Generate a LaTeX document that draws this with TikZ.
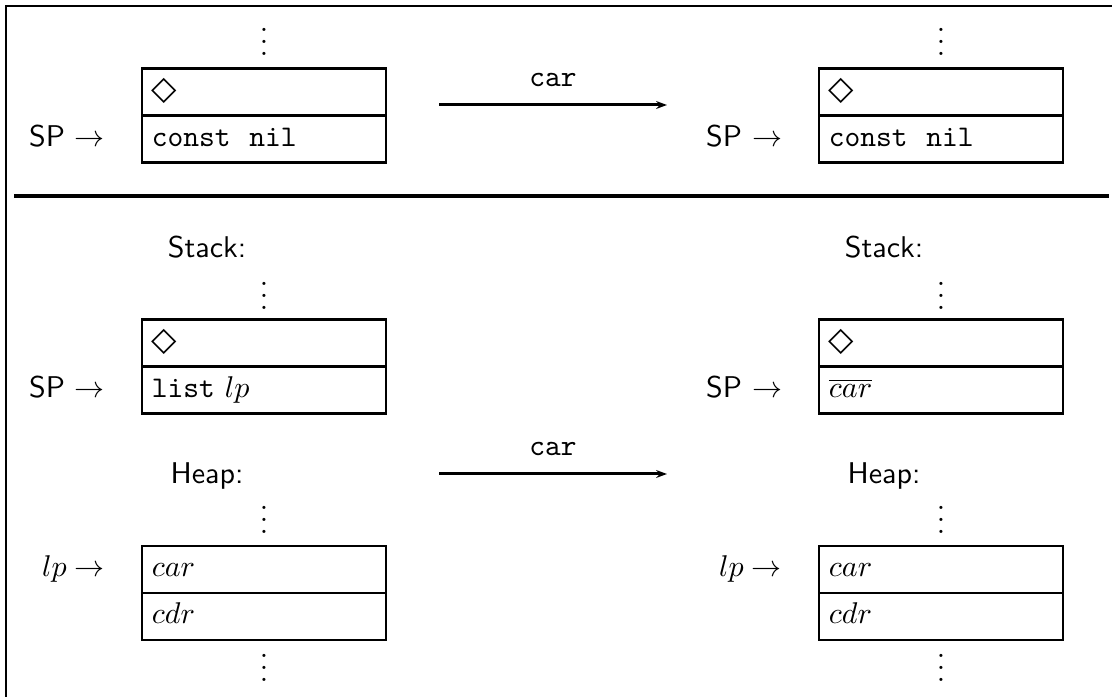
\documentclass[tikz,border=0pt]{standalone}
\usepackage{amssymb}
\usepackage{fontspec}
\newfontfamily\dejavu{DejaVu Sans}
\usetikzlibrary{arrows.meta}
\newcommand{\dia}{{\dejavu\fontsize{11pt}{13pt}\selectfont ◇}}
\newcommand{\constnil}{\texttt{const}\hspace{0.62em}\texttt{nil}}
\begin{document}
\begin{tikzpicture}[x=0.33333pt,y=-0.33333pt,
  cell/.style={draw, line width=0.9pt, text width=74.7pt, inner xsep=3.3pt, inner ysep=0pt,
    minimum height=15.7pt, align=left, text height=7.5pt, text depth=2.5pt},
  lbl/.style={inner sep=0pt, anchor=base east},
  dotsnode/.style={inner sep=0pt, anchor=base},
  head/.style={inner sep=0pt, anchor=base, font=\sffamily},
  trans/.style={line width=1pt, -{Stealth[length=3.6pt,width=2.6pt]}},
  frame/.style={line width=0.8pt},
  divider/.style={line width=1.1pt}]
\useasboundingbox (0,0) rectangle (1112,697);

% frame and divider
\draw[frame] (6,700) -- (6,6) -- (1115,6);
\draw[divider] (14,196) -- (1109,196);

% ---------- top section ----------
\node[dotsnode] (tv1) at (264,55.6) {$\vdots$};
\node[cell] (ta1) at (264,92) {\dia};
\node[cell] (ta2) at (264,139) {\constnil};
\node[lbl] (tsp1) at ([xshift=-11.7pt]ta2.base west) {\textsf{SP} $\rightarrow$};

\node[dotsnode] (tv2) at (941,55.6) {$\vdots$};
\node[cell] (tb1) at (941,92) {\dia};
\node[cell] (tb2) at (941,139) {\constnil};
\node[lbl] (tsp2) at ([xshift=-11.7pt]tb2.base west) {\textsf{SP} $\rightarrow$};

\coordinate (tfrom) at (439,105);
\coordinate (tto) at (667,105);
\draw[trans] (tfrom) -- node[anchor=base, yshift=6.3pt, inner sep=0pt] (tlab) {\texttt{car}} (tto);

% ---------- bottom section, left ----------
\node[head] (st1) at (207,258) {Stack:};
\node[dotsnode] (sv1) at (264,309.6) {$\vdots$};
\node[cell] (sa1) at (264,343) {\dia};
\node[cell] (sa2) at (264,390) {\texttt{list} $lp$};
\node[lbl] (ssp1) at ([xshift=-11.7pt]sa2.base west) {\textsf{SP} $\rightarrow$};

\node[head] (hp1) at (207,484) {Heap:};
\node[dotsnode] (hv1) at (264,533.6) {$\vdots$};
\node[cell] (ha1) at (264,569.5) {$car$};
\node[cell] (ha2) at (264,616.5) {$cdr$};
\node[lbl] (hlp1) at ([xshift=-11.7pt]ha1.base west) {$lp \rightarrow$};
\node[dotsnode] (hw1) at (264,681.6) {$\vdots$};

% ---------- bottom section, right ----------
\node[head] (st2) at (884,258) {Stack:};
\node[dotsnode] (sv2) at (941,309.6) {$\vdots$};
\node[cell] (sb1) at (941,343) {\dia};
\node[cell] (sb2) at (941,390) {$\overline{car}$};
\node[lbl] (ssp2) at ([xshift=-11.7pt]sb2.base west) {\textsf{SP} $\rightarrow$};

\node[head] (hp2) at (884,484) {Heap:};
\node[dotsnode] (hv2) at (941,533.6) {$\vdots$};
\node[cell] (hb1) at (941,569.5) {$car$};
\node[cell] (hb2) at (941,616.5) {$cdr$};
\node[lbl] (hlp2) at ([xshift=-11.7pt]hb1.base west) {$lp \rightarrow$};
\node[dotsnode] (hw2) at (941,681.6) {$\vdots$};

\coordinate (bfrom) at (439,474);
\coordinate (bto) at (667,474);
\draw[trans] (bfrom) -- node[anchor=base, yshift=6.3pt, inner sep=0pt] (blab) {\texttt{car}} (bto);

\end{tikzpicture}
\end{document}
